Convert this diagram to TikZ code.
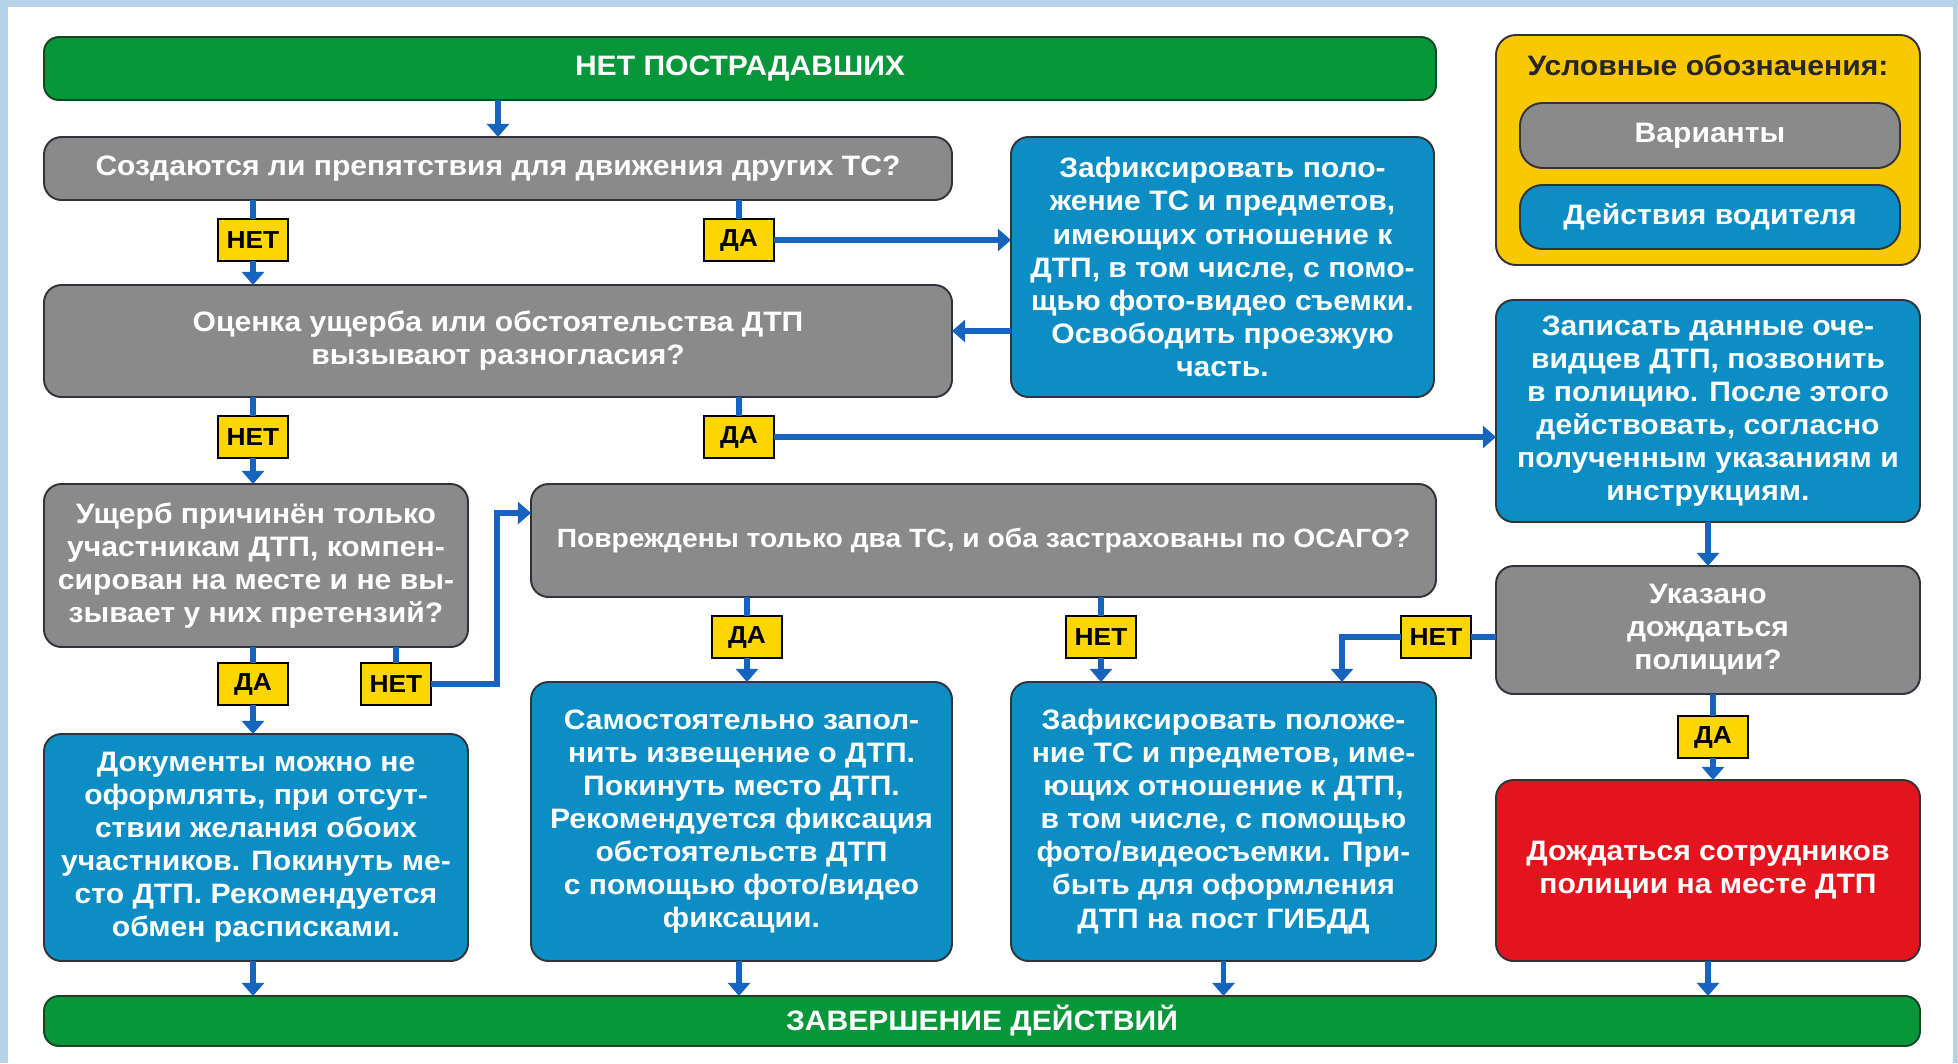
\documentclass[tikz,border=0pt]{standalone}
\usepackage{fontspec}
\setmainfont{Liberation Sans}[FakeStretch=1.07]
\usetikzlibrary{arrows.meta}
\definecolor{flowgreen}{RGB}{8, 150, 58}
\definecolor{flowgray}{RGB}{138, 138, 138}
\definecolor{flowblue}{RGB}{12, 142, 196}
\definecolor{flowred}{RGB}{228, 20, 30}
\definecolor{legendyellow}{RGB}{250, 200, 0}
\definecolor{tagyellow}{RGB}{252, 214, 0}
\definecolor{arrowblue}{RGB}{22, 100, 190}
\definecolor{boxedge}{RGB}{48, 52, 58}
\definecolor{baredge}{RGB}{20, 70, 35}
\definecolor{framebg}{RGB}{182, 210, 230}
\tikzstyle{question}=[shape=rectangle, rounded corners=0.35cm, draw=boxedge, fill=flowgray, line width=1.1pt, inner sep=0pt, outer sep=0pt, text=white, align=center, font=\bfseries\fontsize{16}{18.8}\selectfont]
\tikzstyle{action}=[question, fill=flowblue]
\tikzstyle{alarm}=[question, fill=flowred]
\tikzstyle{bar}=[question, fill=flowgreen, draw=baredge, rounded corners=0.3cm]
\tikzstyle{tag}=[shape=rectangle, draw=black, fill=tagyellow, line width=1pt, inner xsep=0.12cm, outer sep=0pt, minimum width=1.4cm, minimum height=0.84cm, text=black, font=\bfseries\fontsize{14}{16}\selectfont]
\tikzstyle{arrow}=[line width=3pt, -{Triangle[length=7.5pt, width=12.5pt]}, color=arrowblue]
\tikzstyle{line}=[line width=3pt, color=arrowblue]

\begin{document}
\begin{tikzpicture}
    % Background
    \fill[framebg] (0,0) rectangle (39.16,-21.26);
    \fill[white] (0.16,-0.14) rectangle (39.06,-21.26);
    \useasboundingbox (0,0) rectangle (39.16,-21.26);

    % Start and finish bars
    \node[bar, minimum width=27.84cm, minimum height=1.26cm] (start) at (14.80,-1.37) {НЕТ ПОСТРАДАВШИХ};
    \node[bar, minimum width=37.52cm, minimum height=1.0cm] (finish) at (19.64,-20.42) {ЗАВЕРШЕНИЕ ДЕЙСТВИЙ};

    % Legend
    \node[shape=rectangle, rounded corners=0.4cm, draw=boxedge, fill=legendyellow, line width=1.1pt, outer sep=0pt, minimum width=8.48cm, minimum height=4.6cm] (legend) at (34.16,-3.0) {};
    \node[text=black!85, font=\bfseries\fontsize{16}{19}\selectfont] (legtitle) at (34.16,-1.3) {Условные обозначения:};
    \node[question, rounded corners=0.45cm, minimum width=7.6cm, minimum height=1.3cm] (legq) at (34.2,-2.71) {Варианты};
    \node[action, rounded corners=0.45cm, minimum width=7.6cm, minimum height=1.28cm] (lega) at (34.2,-4.34) {Действия водителя};

    % Questions
    \node[question, minimum width=18.16cm, minimum height=1.26cm] (q1) at (9.96,-3.37) {Создаются ли препятствия для движения других ТС?};
    \node[question, minimum width=18.16cm, minimum height=2.24cm] (q2) at (9.96,-6.82) {Оценка ущерба или обстоятельства ДТП\\вызывают разногласия?};
    \node[question, minimum width=8.48cm, minimum height=3.26cm] (q3) at (5.12,-11.31) {Ущерб причинён только\\участникам ДТП, компен-\\сирован на месте и не вы-\\зывает у них претензий?};
    \node[question, minimum width=18.1cm, minimum height=2.26cm, font=\bfseries\fontsize{15}{18}\selectfont] (q4) at (19.67,-10.81) {Повреждены только два ТС, и оба застрахованы по ОСАГО?};
    \node[question, minimum width=8.48cm, minimum height=2.56cm] (q5) at (34.16,-12.6) {Указано\\дождаться\\полиции?};

    % Driver actions
    \node[action, minimum width=8.46cm, minimum height=5.2cm] (b1) at (24.45,-5.34) {Зафиксировать поло-\\жение ТС и предметов,\\имеющих отношение к\\ДТП, в том числе, с помо-\\щью фото-видео съемки.\\Освободить проезжую\\часть.};
    \node[action, minimum width=8.48cm, minimum height=4.44cm] (b2) at (34.16,-8.22) {Записать данные оче-\\видцев ДТП, позвонить\\в полицию. После этого\\действовать, согласно\\полученным указаниям и\\инструкциям.};
    \node[action, minimum width=8.48cm, minimum height=4.54cm] (b3) at (5.12,-16.95) {Документы можно не\\оформлять, при отсут-\\ствии желания обоих\\участников. Покинуть ме-\\сто ДТП. Рекомендуется\\обмен расписками.};
    \node[action, minimum width=8.42cm, minimum height=5.58cm] (b4) at (14.83,-16.43) {Самостоятельно запол-\\нить извещение о ДТП.\\Покинуть место ДТП.\\Рекомендуется фиксация\\обстоятельств ДТП\\с помощью фото/видео\\фиксации.};
    \node[action, minimum width=8.5cm, minimum height=5.58cm] (b5) at (24.47,-16.43) {Зафиксировать положе-\\ние ТС и предметов, име-\\ющих отношение к ДТП,\\в том числе, с помощью\\фото/видеосъемки. При-\\быть для оформления\\ДТП на пост ГИБДД};
    \node[alarm, minimum width=8.48cm, minimum height=3.62cm] (wait) at (34.16,-17.41) {Дождаться сотрудников\\полиции на месте ДТП};

    % Yes / no tags
    \node[tag] (no1) at (5.06,-4.8) {НЕТ};
    \node[tag] (yes1) at (14.78,-4.8) {ДА};
    \node[tag] (no2) at (5.06,-8.74) {НЕТ};
    \node[tag] (yes2) at (14.78,-8.74) {ДА};
    \node[tag] (yes3) at (5.06,-13.68) {ДА};
    \node[tag] (no3) at (7.92,-13.68) {НЕТ};
    \node[tag] (yes4) at (14.94,-12.74) {ДА};
    \node[tag] (no4) at (22.02,-12.74) {НЕТ};
    \node[tag] (no5) at (28.72,-12.74) {НЕТ};
    \node[tag] (yes5) at (34.26,-14.74) {ДА};

    % Bend points
    \coordinate (k1) at (9.94,-10.26);
    \coordinate (k2) at (26.84,-12.74);

    % Connectors
    \draw[arrow] (start.south -| q1.north) -- (q1.north);
    \draw[line] (q1.south -| no1) -- (no1.north);
    \draw[arrow] (no1.south) -- (q2.north -| no1);
    \draw[line] (q1.south -| yes1) -- (yes1.north);
    \draw[arrow] (yes1.east) -- (yes1.east -| b1.west);
    \draw[arrow] ([yshift=-1.28cm]b1.west) -- ([yshift=-1.28cm]b1.west -| q2.east);
    \draw[line] (q2.south -| no2) -- (no2.north);
    \draw[arrow] (no2.south) -- (q3.north -| no2);
    \draw[line] (q2.south -| yes2) -- (yes2.north);
    \draw[arrow] (yes2.east) -- (yes2.east -| b2.west);
    \draw[line] (q3.south -| yes3) -- (yes3.north);
    \draw[arrow] (yes3.south) -- (b3.north -| yes3);
    \draw[line] (q3.south -| no3) -- (no3.north);
    \draw[arrow] (no3.east) -| (k1) -- (k1 -| q4.west);
    \draw[line] (q4.south -| yes4) -- (yes4.north);
    \draw[arrow] (yes4.south) -- (b4.north -| yes4);
    \draw[line] (q4.south -| no4) -- (no4.north);
    \draw[arrow] (no4.south) -- (b5.north -| no4);
    \draw[arrow] (b2.south) -- (q5.north);
    \draw[line] (q5.west |- no5) -- (no5.east);
    \draw[arrow] (no5.west) -- (k2) -- (k2 |- b5.north);
    \draw[line] (q5.south -| yes5) -- (yes5.north);
    \draw[arrow] (yes5.south) -- (wait.north -| yes5);
    \draw[arrow] (b3.south -| no1) -- (finish.north -| no1);
    \draw[arrow] (b4.south -| yes2) -- (finish.north -| yes2);
    \draw[arrow] (b5.south) -- (finish.north -| b5.south);
    \draw[arrow] (wait.south) -- (finish.north -| wait.south);

\end{tikzpicture}
\end{document}
